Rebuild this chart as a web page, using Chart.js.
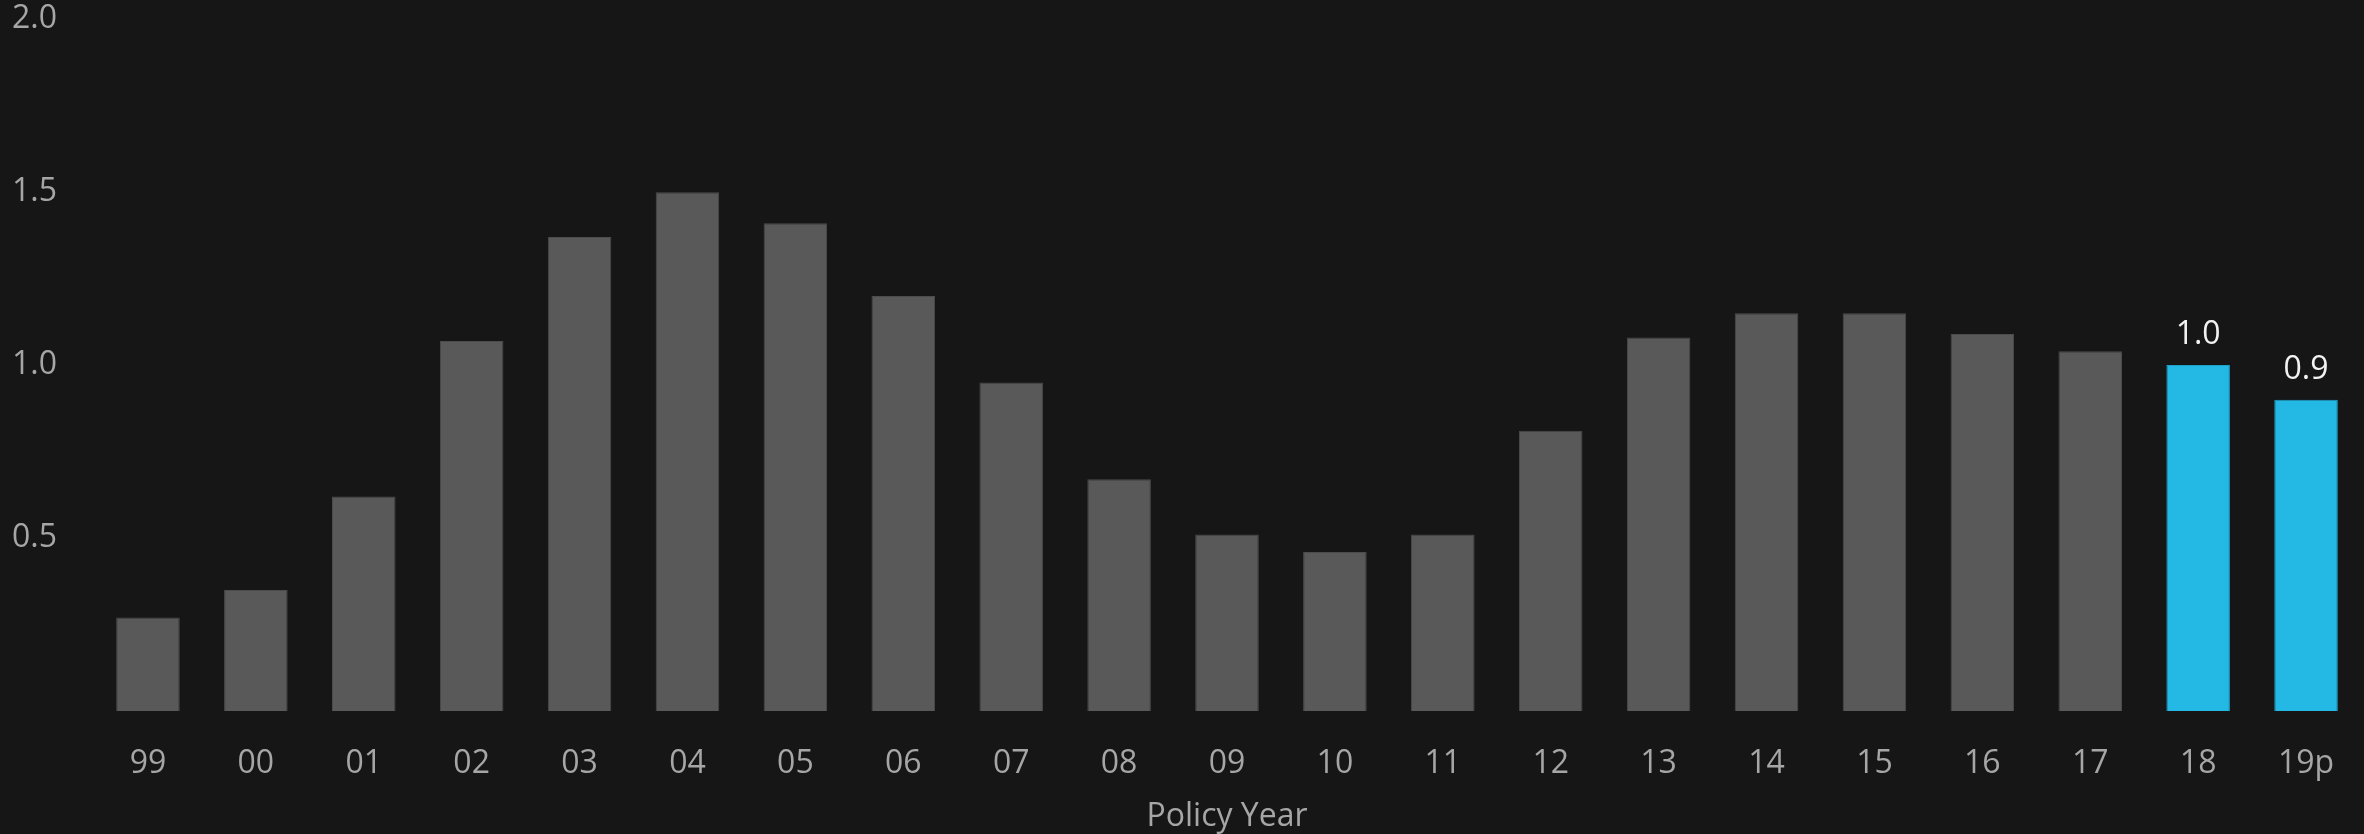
<!DOCTYPE html>
<html>
<head>
<meta charset="utf-8">
<title>Policy Year</title>
<script src="https://cdn.jsdelivr.net/npm/chart.js@4/dist/chart.umd.min.js"></script>
<style>
  html, body { margin: 0; padding: 0; background: #161616; }
  #wrap { width: 2364px; height: 834px; }
</style>
</head>
<body>
<div id="wrap"><canvas id="chart"></canvas></div>
<script>
// Policy years on the x axis
const policyYears = ['99', '00', '01', '02', '03', '04', '05', '06', '07', '08', '09',
                     '10', '11', '12', '13', '14', '15', '16', '17', '18', '19p'];
// Value per policy year
const yearValues = [0.27, 0.35, 0.62, 1.07, 1.37, 1.50, 1.41, 1.20, 0.95, 0.67, 0.51,
                    0.46, 0.51, 0.81, 1.08, 1.15, 1.15, 1.09, 1.04, 1.0, 0.9];
// Years shown in the accent colour with a value label
const highlightedYears = ['18', '19p'];
// Value-axis tick marks
const yTickValues = [0.5, 1.0, 1.5, 2.0];

const GREY = '#595959';
const BLUE = '#23b9e4';
const FONT = '"Open Sans", "DejaVu Sans", sans-serif';

const isHighlighted = (i) => highlightedYears.includes(policyYears[i]);

// Writes the value above each highlighted bar
const valueLabels = {
  id: 'valueLabels',
  afterDatasetsDraw(chart) {
    const { ctx } = chart;
    const meta = chart.getDatasetMeta(0);
    ctx.save();
    ctx.font = '32px ' + FONT;
    ctx.fillStyle = '#f2f2f2';
    ctx.textAlign = 'center';
    ctx.textBaseline = 'alphabetic';
    meta.data.forEach((bar, i) => {
      if (!isHighlighted(i)) return;
      ctx.fillText(yearValues[i].toFixed(1), bar.x, bar.y - 21);
    });
    ctx.restore();
  }
};

new Chart(document.getElementById('chart'), {
  type: 'bar',
  data: {
    labels: policyYears,
    datasets: [{
      data: yearValues,
      backgroundColor: yearValues.map((_, i) => isHighlighted(i) ? BLUE : GREY),
      borderColor: yearValues.map((_, i) => isHighlighted(i) ? '#1f9fc6' : '#4c4c4c'),
      borderWidth: 1,
      borderSkipped: 'bottom',
      barPercentage: 0.589,
      categoryPercentage: 1.0
    }]
  },
  options: {
    responsive: true,
    maintainAspectRatio: false,
    animation: false,
    devicePixelRatio: 1,
    layout: { padding: { left: 12, right: 4, top: 0, bottom: 1 } },
    plugins: {
      legend: { display: false },
      tooltip: { enabled: false }
    },
    scales: {
      x: {
        grid: { display: false, drawTicks: false },
        border: { display: false },
        afterFit(scale) {
          scale.height = 122;
          scale.paddingLeft = 0;
          scale.paddingRight = 0;
        },
        ticks: {
          color: '#a6a6a6',
          font: { family: FONT, size: 32 },
          padding: 34,
          maxRotation: 0,
          autoSkip: false
        },
        title: {
          display: true,
          text: 'Policy Year',
          color: '#a6a6a6',
          font: { family: FONT, size: 32, lineHeight: 1.0 },
          padding: { top: 14, bottom: 0 }
        }
      },
      y: {
        min: 0,
        max: 2,
        grid: { display: false, drawTicks: false },
        border: { display: false },
        afterFit(scale) { scale.width = 82; },
        afterBuildTicks(scale) {
          scale.ticks = [0].concat(yTickValues).map(v => ({ value: v }));
        },
        ticks: {
          color: '#a6a6a6',
          font: { family: FONT, size: 32 },
          crossAlign: 'far',
          padding: 0,
          callback: (v) => v === 0 ? '' : Number(v).toFixed(1)
        }
      }
    }
  },
  plugins: [valueLabels]
});
</script>
</body>
</html>
